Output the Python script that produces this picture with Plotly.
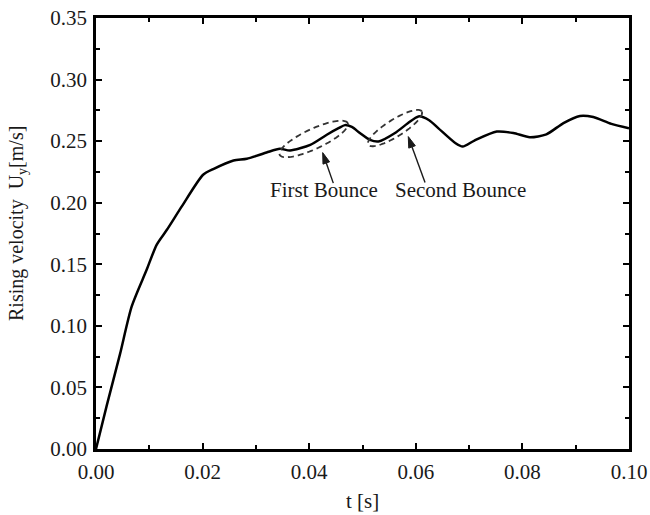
import numpy as np
import plotly.graph_objects as go

# ---- data ----
t_s = [0.0, 0.002, 0.0045, 0.0067, 0.0095, 0.0114, 0.0133, 0.0161, 0.0201, 0.022,
       0.0258, 0.0283, 0.032, 0.0345, 0.0364, 0.0402, 0.0433, 0.0455, 0.0467, 0.048,
       0.0495, 0.0514, 0.053, 0.0561, 0.0585, 0.0605, 0.0625, 0.0642, 0.0674, 0.0688,
       0.0710, 0.0752, 0.0783, 0.0814, 0.0845, 0.0877, 0.0908, 0.0933, 0.0967, 0.1]
u_y = [0.0, 0.035, 0.077, 0.1158, 0.1455, 0.166, 0.178, 0.197, 0.2227, 0.2273,
       0.2343, 0.2357, 0.2408, 0.2438, 0.2424, 0.247, 0.2552, 0.2605, 0.263, 0.2615,
       0.2566, 0.251, 0.2497, 0.2566, 0.2645, 0.2701, 0.267, 0.2606, 0.2485, 0.2456,
       0.2505, 0.2578, 0.2566, 0.2532, 0.2555, 0.2647, 0.2705, 0.2696, 0.264, 0.2605]

x_ticks = [0.00, 0.02, 0.04, 0.06, 0.08, 0.10]
x_labels = ["0.00", "0.02", "0.04", "0.06", "0.08", "0.10"]
y_ticks = [0.00, 0.05, 0.10, 0.15, 0.20, 0.25, 0.30, 0.35]
y_labels = ["0.00", "0.05", "0.10", "0.15", "0.20", "0.25", "0.30", "0.35"]

x_title = "t [s]"
y_title = "Rising velocity  U<sub>y</sub>[m/s]"

labels = ["First Bounce", "Second Bounce"]
label_t = [0.0427, 0.0683]
label_u = [0.2103, 0.2103]
arrow_head_t = [0.04253, 0.05859]
arrow_head_u = [0.2407, 0.2537]
arrow_tail_t = [0.04452, 0.06173]
arrow_tail_u = [0.2159, 0.2164]
# ellipses: center (t,u), semi-axes in px, angle deg
ell_ct = [0.04084, 0.0561]
ell_cu = [0.2518, 0.2606]
ell_a = [37.5, 31.5]
ell_b = [10, 8.5]
ell_ang = [25, 32]

# ---- layout ----
W, H = 650, 515
ML, MR, MT, MB = 96, 21, 18, 66
XR = [0, 0.1]
YR = [0, 0.35]
PW, PH = W - ML - MR, H - MT - MB
px_t = PW / (XR[1] - XR[0])
px_u = PH / (YR[1] - YR[0])

FONT = "Liberation Serif, Times New Roman, serif"
TXT = "#1a1a1a"

fig = go.Figure()
fig.add_trace(go.Scatter(x=t_s, y=u_y, mode="lines",
                         line=dict(color="black", width=2.5, shape="spline", smoothing=0.7),
                         showlegend=False, hoverinfo="skip"))

shapes = []
phi = np.linspace(0, 2 * np.pi, 97)
for ct, cu, a, b, ang in zip(ell_ct, ell_cu, ell_a, ell_b, ell_ang):
    th = np.radians(ang)
    dx = a * np.cos(phi) * np.cos(th) - b * np.sin(phi) * np.sin(th)
    dy = a * np.cos(phi) * np.sin(th) + b * np.sin(phi) * np.cos(th)
    ts = ct + dx / px_t
    us = cu + dy / px_u
    path = "M " + " L ".join(f"{x:.6f},{y:.6f}" for x, y in zip(ts, us)) + " Z"
    shapes.append(dict(type="path", path=path, xref="x", yref="y",
                       line=dict(color="#333333", width=1.8, dash="6px,4px")))

# arrows: shaft + filled head
HEAD_L, HEAD_W = 11, 3.5
for ht, hu, tt, tu in zip(arrow_head_t, arrow_head_u, arrow_tail_t, arrow_tail_u):
    hx, hy = ht * px_t, hu * px_u
    tx, ty = tt * px_t, tu * px_u
    d = np.hypot(hx - tx, hy - ty)
    ux, uy = (hx - tx) / d, (hy - ty) / d
    bx, by = hx - ux * HEAD_L, hy - uy * HEAD_L
    nx, ny = -uy, ux
    shapes.append(dict(type="line", xref="x", yref="y", x0=tt, y0=tu,
                       x1=bx / px_t, y1=by / px_u, line=dict(color="#1a1a1a", width=1.4)))
    pts = [(hx, hy), (bx + nx * HEAD_W, by + ny * HEAD_W), (bx - nx * HEAD_W, by - ny * HEAD_W)]
    path = "M " + " L ".join(f"{x / px_t:.6f},{y / px_u:.6f}" for x, y in pts) + " Z"
    shapes.append(dict(type="path", path=path, xref="x", yref="y",
                       fillcolor="#1a1a1a", line=dict(color="#1a1a1a", width=1)))

annotations = []
for lab, lt, lu in zip(labels, label_t, label_u):
    annotations.append(dict(x=lt, y=lu, text=lab, showarrow=False, xref="x", yref="y",
                            xanchor="center", yanchor="middle",
                            font=dict(family=FONT, size=21, color=TXT)))
# axis titles
annotations.append(dict(x=(362 - ML) / PW, y=(H - MB - 501) / PH, xref="paper", yref="paper",
                        text=x_title, showarrow=False, xanchor="center", yanchor="middle",
                        font=dict(family=FONT, size=21, color=TXT)))
annotations.append(dict(x=(18 - ML) / PW, y=(H - MB - 224) / PH, xref="paper", yref="paper",
                        text=y_title, showarrow=False, xanchor="center", yanchor="middle",
                        textangle=-90, font=dict(family=FONT, size=20, color=TXT)))

axis_common = dict(showline=True, linecolor="black", linewidth=2.5, mirror="allticks",
                   ticks="inside", ticklen=6, tickwidth=2, tickcolor="black",
                   showgrid=False, zeroline=False, automargin=False,
                   tickfont=dict(family=FONT, size=21, color=TXT))

fig.update_layout(
    width=W, height=H, autosize=False,
    margin=dict(l=ML, r=MR, t=MT, b=MB, pad=0),
    plot_bgcolor="white", paper_bgcolor="white",
    shapes=shapes, annotations=annotations,
    xaxis=dict(range=XR, tickvals=x_ticks, ticktext=x_labels, ticklabelstandoff=2,
               minor=dict(dtick=0.01, ticks="inside", ticklen=4, tickwidth=2, tickcolor="black"),
               **axis_common),
    yaxis=dict(range=YR, tickvals=y_ticks, ticktext=y_labels, ticklabelstandoff=2,
               minor=dict(dtick=0.025, ticks="inside", ticklen=4, tickwidth=2, tickcolor="black"),
               **axis_common),
)

fig.write_html("out.html")
